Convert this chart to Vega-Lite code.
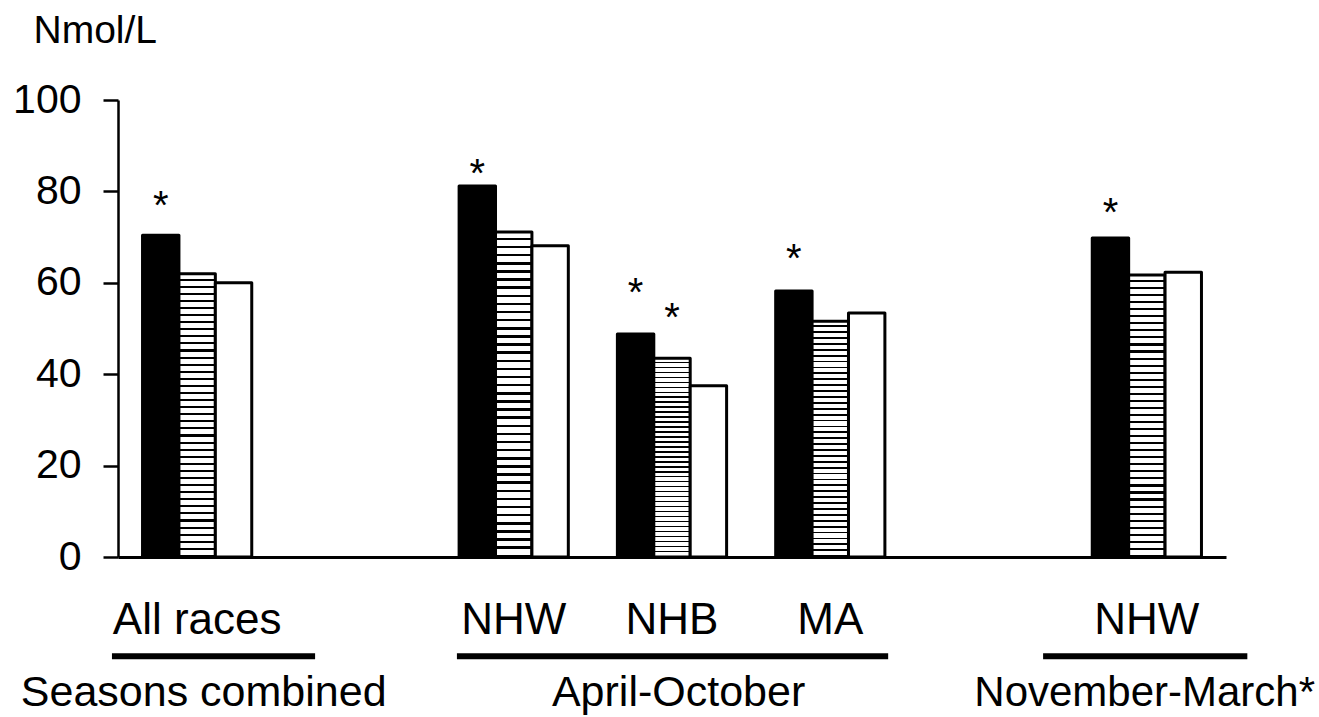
{
  "$schema": "https://vega.github.io/schema/vega-lite/v6.json",
  "width": 1108,
  "height": 457,
  "autosize": {"type": "none"},
  "padding": {"left": 118, "top": 100, "right": 93, "bottom": 160},
  "config": {
    "font": "Liberation Sans",
    "view": {"stroke": null},
    "axisX": {"labelFontSize": 44, "labelColor": "#000", "labelBaseline": "alphabetic", "labelPadding": 76, "ticks": false, "tickSize": 0, "domainColor": "#000", "domainWidth": 3, "grid": false, "labelAngle": 0},
    "axisY": {"labelFontSize": 41, "labelColor": "#000", "labelPadding": 22, "tickSize": 15, "tickWidth": 2.5, "tickColor": "#000", "domainColor": "#000", "domainWidth": 2.5, "grid": false, "tickCount": 5, "titleAngle": 0, "titleAlign": "left", "titleBaseline": "alphabetic", "titleX": -85, "titleY": -58, "titleFontSize": 39, "titleFontWeight": "normal", "titleColor": "#000"}
  },
  "datasets": {
    "bars": [
      {"slot": "All races", "series": "A", "value": 70.4, "star": "*", "star_level": 79},
      {"slot": "All races", "series": "B", "value": 62.0, "star": "", "star_level": null},
      {"slot": "All races", "series": "C", "value": 60.0, "star": "", "star_level": null},
      {"slot": "NHW", "series": "A", "value": 81.2, "star": "*", "star_level": 86},
      {"slot": "NHW", "series": "B", "value": 71.1, "star": "", "star_level": null},
      {"slot": "NHW", "series": "C", "value": 68.1, "star": "", "star_level": null},
      {"slot": "NHB", "series": "A", "value": 48.8, "star": "*", "star_level": 60},
      {"slot": "NHB", "series": "B", "value": 43.5, "star": "*", "star_level": 54.5},
      {"slot": "NHB", "series": "C", "value": 37.5, "star": "", "star_level": null},
      {"slot": "MA", "series": "A", "value": 58.2, "star": "*", "star_level": 67.4},
      {"slot": "MA", "series": "B", "value": 51.6, "star": "", "star_level": null},
      {"slot": "MA", "series": "C", "value": 53.4, "star": "", "star_level": null},
      {"slot": "NHW2", "series": "A", "value": 69.8, "star": "*", "star_level": 77.5},
      {"slot": "NHW2", "series": "B", "value": 61.7, "star": "", "star_level": null},
      {"slot": "NHW2", "series": "C", "value": 62.3, "star": "", "star_level": null}
    ],
    "groups": [
      {"group": "Seasons combined", "from": "All races", "to": "All races", "mid": "All races"},
      {"group": "April-October", "from": "NHW", "to": "MA", "mid": "NHB"},
      {"group": "November-March*", "from": "NHW2", "to": "NHW2", "mid": "NHW2"}
    ]
  },
  "layer": [
    {
      "data": {"name": "bars"},
      "transform": [{"filter": "datum.series === 'A'"}],
      "mark": {"type": "bar", "fill": "#000", "stroke": "#000", "strokeWidth": 3, "strokeJoin": "round"},
      "encoding": {
        "x": {"field": "slot", "type": "nominal", "title": null, "scale": {"domain": ["All races", "gap1", "NHW", "NHB", "MA", "gap2", "NHW2"], "paddingInner": 0.31, "paddingOuter": 0.155}, "axis": {"labelExpr": "datum.value == 'NHW2' ? 'NHW' : (indexof(datum.value, 'gap') == 0 ? '' : datum.value)"}},
        "xOffset": {"field": "series", "type": "nominal", "scale": {"domain": ["A", "B", "C"], "paddingInner": 0, "paddingOuter": 0}},
        "y": {"field": "value", "type": "quantitative", "title": "Nmol/L", "scale": {"domain": [0, 100], "nice": false}}
      }
    },
    {
      "data": {"name": "bars"},
      "transform": [{"filter": "datum.series === 'B'"}],
      "mark": {"type": "bar", "stroke": "#000", "strokeWidth": 3, "strokeJoin": "round",
        "fill": {"gradient": "linear", "x1": 0, "y1": 0, "x2": 0, "y2": 1, "stops": [
          {"offset": 0, "color": "#fff"}, {"offset": 0.0175, "color": "#fff"}, {"offset": 0.0175, "color": "#000"}, {"offset": 0.025, "color": "#000"},
          {"offset": 0.025, "color": "#fff"}, {"offset": 0.0425, "color": "#fff"}, {"offset": 0.0425, "color": "#000"}, {"offset": 0.05, "color": "#000"},
          {"offset": 0.05, "color": "#fff"}, {"offset": 0.0675, "color": "#fff"}, {"offset": 0.0675, "color": "#000"}, {"offset": 0.075, "color": "#000"},
          {"offset": 0.075, "color": "#fff"}, {"offset": 0.0925, "color": "#fff"}, {"offset": 0.0925, "color": "#000"}, {"offset": 0.1, "color": "#000"},
          {"offset": 0.1, "color": "#fff"}, {"offset": 0.1175, "color": "#fff"}, {"offset": 0.1175, "color": "#000"}, {"offset": 0.125, "color": "#000"},
          {"offset": 0.125, "color": "#fff"}, {"offset": 0.1425, "color": "#fff"}, {"offset": 0.1425, "color": "#000"}, {"offset": 0.15, "color": "#000"},
          {"offset": 0.15, "color": "#fff"}, {"offset": 0.1675, "color": "#fff"}, {"offset": 0.1675, "color": "#000"}, {"offset": 0.175, "color": "#000"},
          {"offset": 0.175, "color": "#fff"}, {"offset": 0.1925, "color": "#fff"}, {"offset": 0.1925, "color": "#000"}, {"offset": 0.2, "color": "#000"},
          {"offset": 0.2, "color": "#fff"}, {"offset": 0.2175, "color": "#fff"}, {"offset": 0.2175, "color": "#000"}, {"offset": 0.225, "color": "#000"},
          {"offset": 0.225, "color": "#fff"}, {"offset": 0.2425, "color": "#fff"}, {"offset": 0.2425, "color": "#000"}, {"offset": 0.25, "color": "#000"},
          {"offset": 0.25, "color": "#fff"}, {"offset": 0.2675, "color": "#fff"}, {"offset": 0.2675, "color": "#000"}, {"offset": 0.275, "color": "#000"},
          {"offset": 0.275, "color": "#fff"}, {"offset": 0.2925, "color": "#fff"}, {"offset": 0.2925, "color": "#000"}, {"offset": 0.3, "color": "#000"},
          {"offset": 0.3, "color": "#fff"}, {"offset": 0.3175, "color": "#fff"}, {"offset": 0.3175, "color": "#000"}, {"offset": 0.325, "color": "#000"},
          {"offset": 0.325, "color": "#fff"}, {"offset": 0.3425, "color": "#fff"}, {"offset": 0.3425, "color": "#000"}, {"offset": 0.35, "color": "#000"},
          {"offset": 0.35, "color": "#fff"}, {"offset": 0.3675, "color": "#fff"}, {"offset": 0.3675, "color": "#000"}, {"offset": 0.375, "color": "#000"},
          {"offset": 0.375, "color": "#fff"}, {"offset": 0.3925, "color": "#fff"}, {"offset": 0.3925, "color": "#000"}, {"offset": 0.4, "color": "#000"},
          {"offset": 0.4, "color": "#fff"}, {"offset": 0.4175, "color": "#fff"}, {"offset": 0.4175, "color": "#000"}, {"offset": 0.425, "color": "#000"},
          {"offset": 0.425, "color": "#fff"}, {"offset": 0.4425, "color": "#fff"}, {"offset": 0.4425, "color": "#000"}, {"offset": 0.45, "color": "#000"},
          {"offset": 0.45, "color": "#fff"}, {"offset": 0.4675, "color": "#fff"}, {"offset": 0.4675, "color": "#000"}, {"offset": 0.475, "color": "#000"},
          {"offset": 0.475, "color": "#fff"}, {"offset": 0.4925, "color": "#fff"}, {"offset": 0.4925, "color": "#000"}, {"offset": 0.5, "color": "#000"},
          {"offset": 0.5, "color": "#fff"}, {"offset": 0.5175, "color": "#fff"}, {"offset": 0.5175, "color": "#000"}, {"offset": 0.525, "color": "#000"},
          {"offset": 0.525, "color": "#fff"}, {"offset": 0.5425, "color": "#fff"}, {"offset": 0.5425, "color": "#000"}, {"offset": 0.55, "color": "#000"},
          {"offset": 0.55, "color": "#fff"}, {"offset": 0.5675, "color": "#fff"}, {"offset": 0.5675, "color": "#000"}, {"offset": 0.575, "color": "#000"},
          {"offset": 0.575, "color": "#fff"}, {"offset": 0.5925, "color": "#fff"}, {"offset": 0.5925, "color": "#000"}, {"offset": 0.6, "color": "#000"},
          {"offset": 0.6, "color": "#fff"}, {"offset": 0.6175, "color": "#fff"}, {"offset": 0.6175, "color": "#000"}, {"offset": 0.625, "color": "#000"},
          {"offset": 0.625, "color": "#fff"}, {"offset": 0.6425, "color": "#fff"}, {"offset": 0.6425, "color": "#000"}, {"offset": 0.65, "color": "#000"},
          {"offset": 0.65, "color": "#fff"}, {"offset": 0.6675, "color": "#fff"}, {"offset": 0.6675, "color": "#000"}, {"offset": 0.675, "color": "#000"},
          {"offset": 0.675, "color": "#fff"}, {"offset": 0.6925, "color": "#fff"}, {"offset": 0.6925, "color": "#000"}, {"offset": 0.7, "color": "#000"},
          {"offset": 0.7, "color": "#fff"}, {"offset": 0.7175, "color": "#fff"}, {"offset": 0.7175, "color": "#000"}, {"offset": 0.725, "color": "#000"},
          {"offset": 0.725, "color": "#fff"}, {"offset": 0.7425, "color": "#fff"}, {"offset": 0.7425, "color": "#000"}, {"offset": 0.75, "color": "#000"},
          {"offset": 0.75, "color": "#fff"}, {"offset": 0.7675, "color": "#fff"}, {"offset": 0.7675, "color": "#000"}, {"offset": 0.775, "color": "#000"},
          {"offset": 0.775, "color": "#fff"}, {"offset": 0.7925, "color": "#fff"}, {"offset": 0.7925, "color": "#000"}, {"offset": 0.8, "color": "#000"},
          {"offset": 0.8, "color": "#fff"}, {"offset": 0.8175, "color": "#fff"}, {"offset": 0.8175, "color": "#000"}, {"offset": 0.825, "color": "#000"},
          {"offset": 0.825, "color": "#fff"}, {"offset": 0.8425, "color": "#fff"}, {"offset": 0.8425, "color": "#000"}, {"offset": 0.85, "color": "#000"},
          {"offset": 0.85, "color": "#fff"}, {"offset": 0.8675, "color": "#fff"}, {"offset": 0.8675, "color": "#000"}, {"offset": 0.875, "color": "#000"},
          {"offset": 0.875, "color": "#fff"}, {"offset": 0.8925, "color": "#fff"}, {"offset": 0.8925, "color": "#000"}, {"offset": 0.9, "color": "#000"},
          {"offset": 0.9, "color": "#fff"}, {"offset": 0.9175, "color": "#fff"}, {"offset": 0.9175, "color": "#000"}, {"offset": 0.925, "color": "#000"},
          {"offset": 0.925, "color": "#fff"}, {"offset": 0.9425, "color": "#fff"}, {"offset": 0.9425, "color": "#000"}, {"offset": 0.95, "color": "#000"},
          {"offset": 0.95, "color": "#fff"}, {"offset": 0.9675, "color": "#fff"}, {"offset": 0.9675, "color": "#000"}, {"offset": 0.975, "color": "#000"},
          {"offset": 0.975, "color": "#fff"}, {"offset": 0.9925, "color": "#fff"}, {"offset": 0.9925, "color": "#000"}, {"offset": 1, "color": "#000"}
        ]}},
      "encoding": {
        "x": {"field": "slot", "type": "nominal", "title": null, "scale": {"domain": ["All races", "gap1", "NHW", "NHB", "MA", "gap2", "NHW2"], "paddingInner": 0.31, "paddingOuter": 0.155}, "axis": {"labelExpr": "datum.value == 'NHW2' ? 'NHW' : (indexof(datum.value, 'gap') == 0 ? '' : datum.value)"}},
        "xOffset": {"field": "series", "type": "nominal", "scale": {"domain": ["A", "B", "C"], "paddingInner": 0, "paddingOuter": 0}},
        "y": {"field": "value", "type": "quantitative", "title": "Nmol/L", "scale": {"domain": [0, 100], "nice": false}}
      }
    },
    {
      "data": {"name": "bars"},
      "transform": [{"filter": "datum.series === 'C'"}],
      "mark": {"type": "bar", "fill": "#fff", "stroke": "#000", "strokeWidth": 3, "strokeJoin": "round"},
      "encoding": {
        "x": {"field": "slot", "type": "nominal", "title": null, "scale": {"domain": ["All races", "gap1", "NHW", "NHB", "MA", "gap2", "NHW2"], "paddingInner": 0.31, "paddingOuter": 0.155}, "axis": {"labelExpr": "datum.value == 'NHW2' ? 'NHW' : (indexof(datum.value, 'gap') == 0 ? '' : datum.value)"}},
        "xOffset": {"field": "series", "type": "nominal", "scale": {"domain": ["A", "B", "C"], "paddingInner": 0, "paddingOuter": 0}},
        "y": {"field": "value", "type": "quantitative", "title": "Nmol/L", "scale": {"domain": [0, 100], "nice": false}}
      }
    },
    {
      "data": {"name": "bars"},
      "transform": [{"filter": "datum.star === '*'"}],
      "mark": {"type": "text", "fontSize": 40, "align": "center", "baseline": "alphabetic", "dy": 23, "color": "#000"},
      "encoding": {
        "x": {"field": "slot", "type": "nominal", "title": null, "scale": {"domain": ["All races", "gap1", "NHW", "NHB", "MA", "gap2", "NHW2"], "paddingInner": 0.31, "paddingOuter": 0.155}, "axis": {"labelExpr": "datum.value == 'NHW2' ? 'NHW' : (indexof(datum.value, 'gap') == 0 ? '' : datum.value)"}},
        "xOffset": {"field": "series", "type": "nominal", "scale": {"domain": ["A", "B", "C"], "paddingInner": 0, "paddingOuter": 0}},
        "y": {"field": "star_level", "type": "quantitative", "title": "Nmol/L"},
        "text": {"field": "star"}
      }
    },
    {
      "data": {"name": "groups"},
      "transform": [{"filter": "datum.group === 'Seasons combined'"}],
      "mark": {"type": "rule", "strokeWidth": 6, "color": "#000", "strokeCap": "butt"},
      "encoding": {
        "x": {"field": "from", "type": "nominal", "title": null, "bandPosition": -0.28, "axis": {"labelExpr": "datum.value == 'NHW2' ? 'NHW' : (indexof(datum.value, 'gap') == 0 ? '' : datum.value)"}},
        "x2": {"field": "to", "bandPosition": 1.58},
        "y": {"datum": -21.7, "type": "quantitative", "title": "Nmol/L"}
      }
    },
    {
      "data": {"name": "groups"},
      "transform": [{"filter": "datum.group === 'April-October'"}],
      "mark": {"type": "rule", "strokeWidth": 6, "color": "#000", "strokeCap": "butt"},
      "encoding": {
        "x": {"field": "from", "type": "nominal", "title": null, "bandPosition": -0.02, "axis": {"labelExpr": "datum.value == 'NHW2' ? 'NHW' : (indexof(datum.value, 'gap') == 0 ? '' : datum.value)"}},
        "x2": {"field": "to", "bandPosition": 1.03},
        "y": {"datum": -21.7, "type": "quantitative", "title": "Nmol/L"}
      }
    },
    {
      "data": {"name": "groups"},
      "transform": [{"filter": "datum.group === 'November-March*'"}],
      "mark": {"type": "rule", "strokeWidth": 6, "color": "#000", "strokeCap": "butt"},
      "encoding": {
        "x": {"field": "from", "type": "nominal", "title": null, "bandPosition": -0.45, "axis": {"labelExpr": "datum.value == 'NHW2' ? 'NHW' : (indexof(datum.value, 'gap') == 0 ? '' : datum.value)"}},
        "x2": {"field": "to", "bandPosition": 1.42},
        "y": {"datum": -21.7, "type": "quantitative", "title": "Nmol/L"}
      }
    },
    {
      "data": {"name": "groups"},
      "transform": [{"filter": "datum.group !== 'November-March*'"}],
      "mark": {"type": "text", "fontSize": 43, "align": "center", "baseline": "alphabetic", "color": "#000"},
      "encoding": {
        "x": {"field": "mid", "type": "nominal", "title": null, "bandPosition": 0.56, "axis": {"labelExpr": "datum.value == 'NHW2' ? 'NHW' : (indexof(datum.value, 'gap') == 0 ? '' : datum.value)"}},
        "y": {"datum": -32.5, "type": "quantitative", "title": "Nmol/L"},
        "text": {"field": "group"}
      }
    },
    {
      "data": {"name": "groups"},
      "transform": [{"filter": "datum.group === 'November-March*'"}],
      "mark": {"type": "text", "fontSize": 42, "align": "center", "baseline": "alphabetic", "color": "#000"},
      "encoding": {
        "x": {"field": "mid", "type": "nominal", "title": null, "bandPosition": 0.48, "axis": {"labelExpr": "datum.value == 'NHW2' ? 'NHW' : (indexof(datum.value, 'gap') == 0 ? '' : datum.value)"}},
        "y": {"datum": -32.5, "type": "quantitative", "title": "Nmol/L"},
        "text": {"field": "group"}
      }
    }
  ]
}
